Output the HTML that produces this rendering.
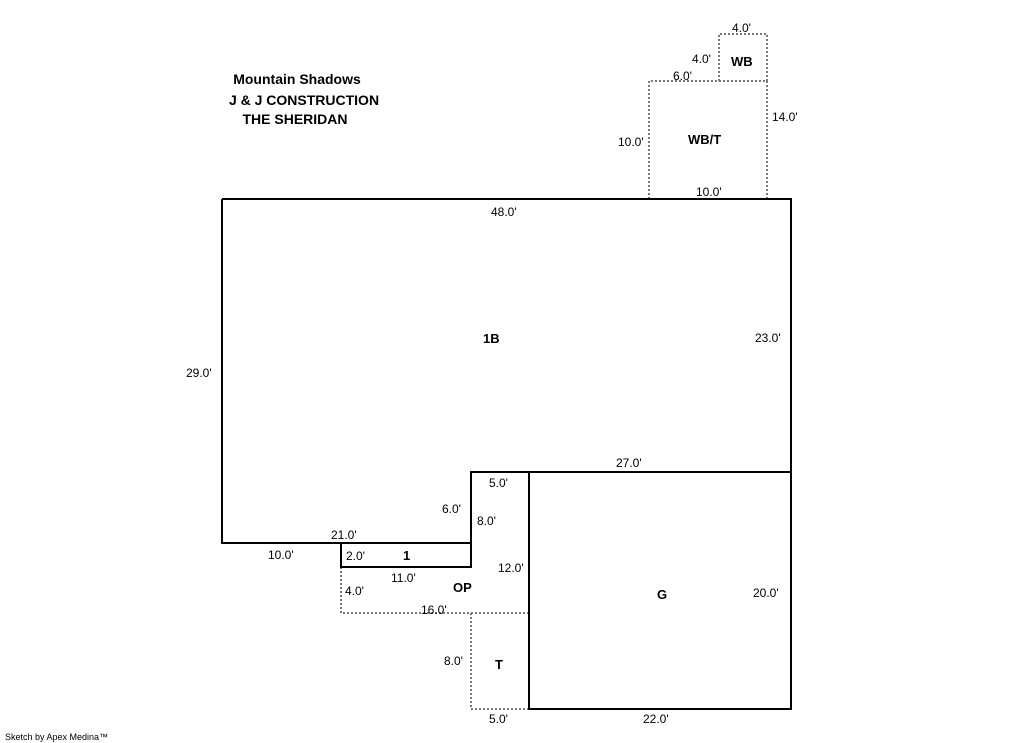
<!DOCTYPE html>
<html><head><style>
html,body{margin:0;padding:0;background:#fff;}
svg{display:block;}
text{font-family:"Liberation Sans",Arial,sans-serif;font-size:12px;fill:#000;}
.b{font-weight:bold;font-size:13px;}
.t{font-weight:bold;font-size:14px;}
.s{stroke:#000;stroke-width:2;fill:none;}
.d{stroke:#777;stroke-width:2;fill:none;stroke-dasharray:2,2;}
</style></head><body>
<svg width="1013" height="743" viewBox="0 0 1013 743">
<polyline class="d" points="649,199 649,81 767,81 767,199"/>
<polyline class="d" points="719,81 719,34 767,34 767,81"/>
<polyline class="d" points="341,567 341,613 529,613"/>
<polyline class="d" points="471,613 471,709 529,709"/>
<polyline class="s" points="222,199 791,199 791,709 529,709 529,472"/>
<polyline class="s" points="222,199 222,543 341,543 341,567 471,567 471,472 791,472"/>
<line class="s" x1="341" y1="543" x2="471" y2="543"/>
<text class="t" x="297" y="84" text-anchor="middle">Mountain Shadows</text>
<text class="t" x="304" y="105" text-anchor="middle">J &amp; J CONSTRUCTION</text>
<text class="t" x="295" y="124" text-anchor="middle">THE SHERIDAN</text>
<text x="732" y="32">4.0'</text>
<text x="692" y="63">4.0'</text>
<text class="b" x="731" y="66">WB</text>
<text x="673" y="80">6.0'</text>
<text x="772" y="121">14.0'</text>
<text x="618" y="146">10.0'</text>
<text class="b" x="688" y="144">WB/T</text>
<text x="696" y="196">10.0'</text>
<text x="491" y="216">48.0'</text>
<text class="b" x="483" y="343">1B</text>
<text x="755" y="342">23.0'</text>
<text x="186" y="377">29.0'</text>
<text x="616" y="467">27.0'</text>
<text x="489" y="487">5.0'</text>
<text x="442" y="513">6.0'</text>
<text x="477" y="525">8.0'</text>
<text x="331" y="539">21.0'</text>
<text x="268" y="559">10.0'</text>
<text x="346" y="560">2.0'</text>
<text class="b" x="403" y="560">1</text>
<text x="498" y="572">12.0'</text>
<text x="391" y="582">11.0'</text>
<text class="b" x="453" y="592">OP</text>
<text x="345" y="595">4.0'</text>
<text class="b" x="657" y="599">G</text>
<text x="753" y="597">20.0'</text>
<text x="421" y="614">16.0'</text>
<text x="444" y="665">8.0'</text>
<text class="b" x="495" y="669">T</text>
<text x="489" y="723">5.0'</text>
<text x="643" y="723">22.0'</text>
<text x="5" y="740" style="font-size:9px">Sketch by Apex Medina™</text>
</svg>
</body></html>
